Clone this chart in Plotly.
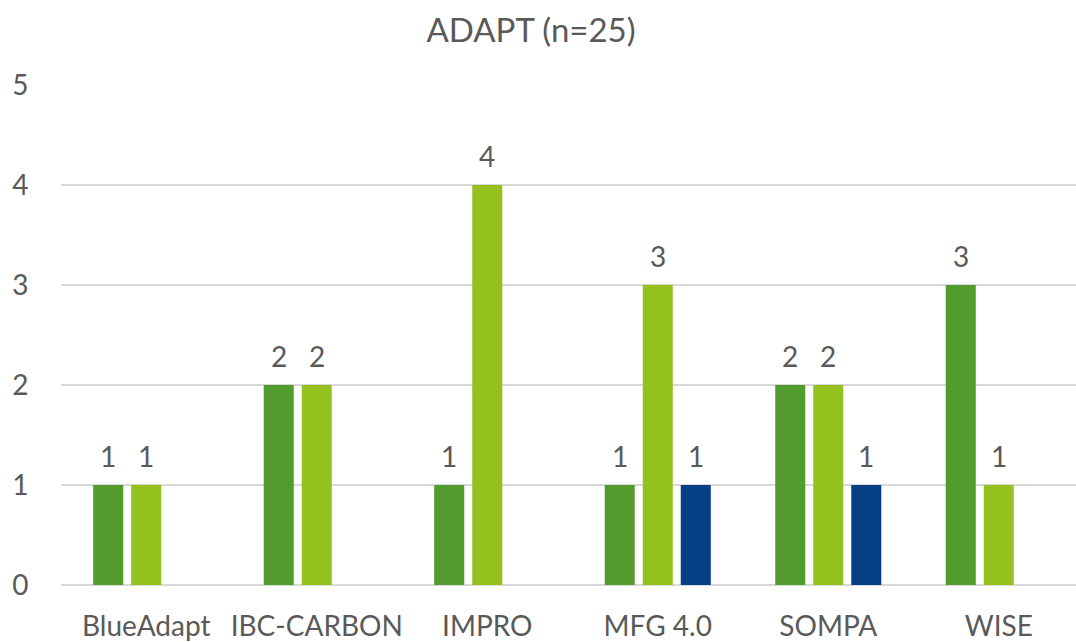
import plotly.graph_objects as go

categories = ["BlueAdapt", "IBC-CARBON", "IMPRO", "MFG 4.0", "SOMPA", "WISE"]
series_a = [1, 2, 1, 1, 2, 3]
series_b = [1, 2, 4, 3, 2, 1]
series_c = [None, None, None, 1, 1, None]
y_ticks = [0, 1, 2, 3, 4, 5]

colors = ["#539A2F", "#95C11F", "#063F84"]
series = [series_a, series_b, series_c]
shifts = [-38, 0, 38]

FONT = "Lato"
GREY = "#595959"
TICK_SIZE = 28

fig = go.Figure()
for vals, col in zip(series, colors):
    fig.add_trace(go.Bar(x=categories, y=vals, marker=dict(color=col, line=dict(width=0)),
                         showlegend=False, hoverinfo="skip"))

annotations = []
for vals, sh in zip(series, shifts):
    for c, v in zip(categories, vals):
        if v is None:
            continue
        annotations.append(dict(x=c, y=v, xref="x", yref="y", text=str(v), showarrow=False,
                                xshift=sh, yshift=29, yanchor="middle",
                                font=dict(family=FONT, size=TICK_SIZE, color=GREY)))

fig.update_layout(
    width=1076, height=642,
    margin=dict(l=61, r=0, t=85, b=57),
    paper_bgcolor="white", plot_bgcolor="white",
    barmode="group", bargap=0.331, bargroupgap=0.21,
    title=dict(text="ADAPT (n=25)", x=531 / 1076, xanchor="center", y=1 - 30 / 642, yanchor="middle",
               yref="container", font=dict(family=FONT, size=33, color=GREY)),
    annotations=annotations,
    font=dict(family=FONT, color=GREY),
)
fig.update_xaxes(range=[-0.5, 5.453], showgrid=False, showline=False, zeroline=False,
                 automargin=False, ticks="outside", ticklen=16, tickcolor="rgba(0,0,0,0)",
                 tickfont=dict(family=FONT, size=TICK_SIZE, color=GREY))
fig.update_yaxes(range=[0, 5], tickvals=y_ticks, showgrid=True, gridcolor="#D9D9D9", gridwidth=1.5,
                 zeroline=True, zerolinecolor="#D9D9D9", zerolinewidth=1.5, showline=False,
                 automargin=False, ticks="outside", ticklen=26, tickcolor="rgba(0,0,0,0)",
                 tickfont=dict(family=FONT, size=TICK_SIZE, color=GREY))

fig.write_html("out.html", config={"displayModeBar": False},
               post_script="document.body.style.margin='0';document.body.style.overflow='hidden';")
